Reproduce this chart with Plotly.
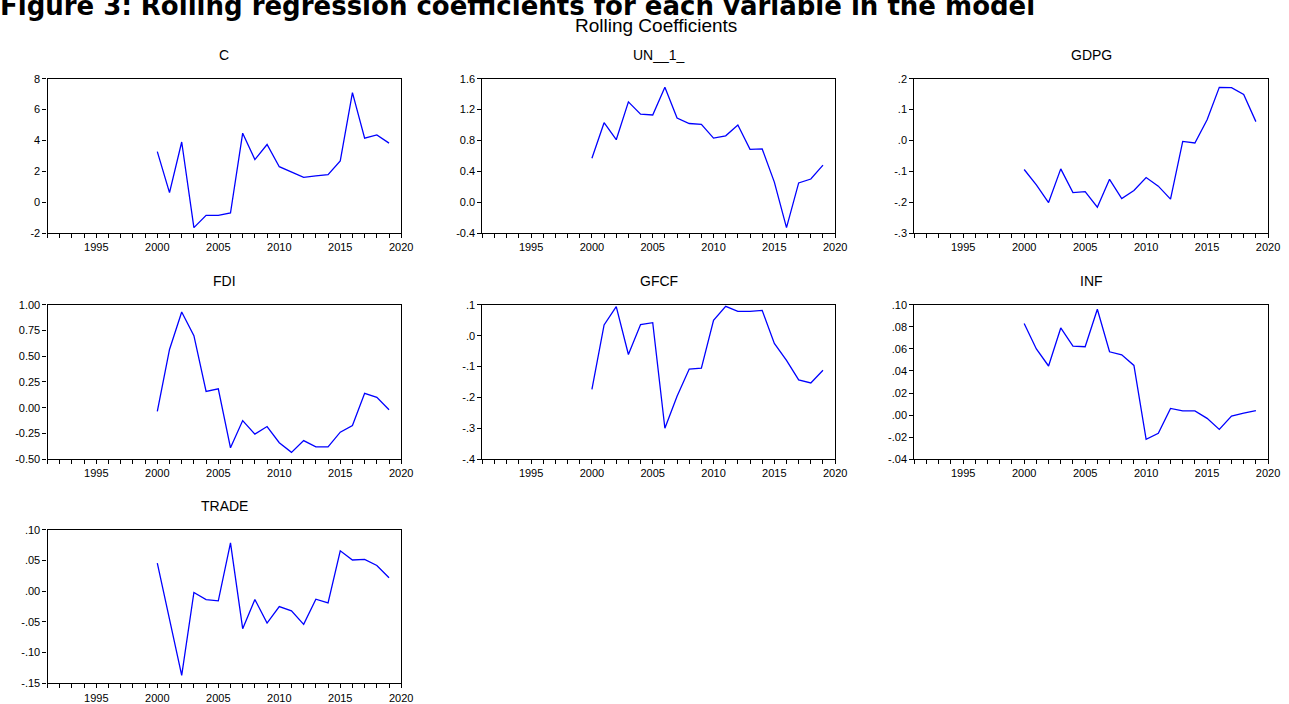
import plotly.graph_objects as go

years = list(range(2000, 2020))

c_vals = [3.28, 0.62, 3.9, -1.65, -0.85, -0.85, -0.7, 4.47, 2.76, 3.74,
          2.3, 1.93, 1.61, 1.7, 1.78, 2.68, 7.1, 4.15, 4.36, 3.83]
un_vals = [0.57, 1.03, 0.81, 1.30, 1.14, 1.13, 1.49, 1.09, 1.02, 1.01,
           0.83, 0.86, 1.0, 0.685, 0.69, 0.26, -0.33, 0.25, 0.30, 0.48]
gdpg_vals = [-0.094, -0.144, -0.201, -0.092, -0.169, -0.166, -0.216, -0.126, -0.188, -0.162,
             -0.12, -0.148, -0.19, -0.003, -0.008, 0.067, 0.172, 0.171, 0.149, 0.061]
fdi_vals = [-0.035, 0.566, 0.93, 0.70, 0.158, 0.183, -0.39, -0.125, -0.257, -0.183,
            -0.34, -0.434, -0.32, -0.38, -0.38, -0.238, -0.174, 0.14, 0.10, -0.02]
gfcf_vals = [-0.174, 0.035, 0.094, -0.061, 0.036, 0.042, -0.30, -0.196, -0.108, -0.105,
             0.05, 0.095, 0.079, 0.079, 0.082, -0.025, -0.08, -0.143, -0.153, -0.112]
inf_vals = [0.083, 0.060, 0.0445, 0.079, 0.0625, 0.062, 0.096, 0.0574, 0.0547, 0.045,
            -0.022, -0.0166, 0.006, 0.0038, 0.0038, -0.003, -0.013, -0.001, 0.0017, 0.004]
trade_vals = [0.046, -0.048, -0.137, -0.002, -0.0135, -0.0156, 0.079, -0.061, -0.0135, -0.052,
              -0.025, -0.032, -0.054, -0.013, -0.019, 0.066, 0.051, 0.052, 0.042, 0.022]

panel_names = ["C", "UN__1_", "GDPG", "FDI", "GFCF", "INF", "TRADE"]
panel_values = [c_vals, un_vals, gdpg_vals, fdi_vals, gfcf_vals, inf_vals, trade_vals]

ytick_vals = [
    [-2, 0, 2, 4, 6, 8],
    [-0.4, 0.0, 0.4, 0.8, 1.2, 1.6],
    [-0.3, -0.2, -0.1, 0.0, 0.1, 0.2],
    [-0.5, -0.25, 0.0, 0.25, 0.5, 0.75, 1.0],
    [-0.4, -0.3, -0.2, -0.1, 0.0, 0.1],
    [-0.04, -0.02, 0.0, 0.02, 0.04, 0.06, 0.08, 0.10],
    [-0.15, -0.10, -0.05, 0.0, 0.05, 0.10],
]
ytick_text = [
    ["-2", "0", "2", "4", "6", "8"],
    ["-0.4", "0.0", "0.4", "0.8", "1.2", "1.6"],
    ["-.3", "-.2", "-.1", ".0", ".1", ".2"],
    ["-0.50", "-0.25", "0.00", "0.25", "0.50", "0.75", "1.00"],
    ["-.4", "-.3", "-.2", "-.1", ".0", ".1"],
    ["-.04", "-.02", ".00", ".02", ".04", ".06", ".08", ".10"],
    ["-.15", "-.10", "-.05", ".00", ".05", ".10"],
]
xtick_vals = [1995, 2000, 2005, 2010, 2015, 2020]
xtick_text = ["1995", "2000", "2005", "2010", "2015", "2020"]

W, H = 1289, 704
col_px = [(48, 405), (487, 843), (923, 1280)]
row_px = [(74, 231), (304, 461), (533, 689)]

fig = go.Figure()
font_family = "Arial, Liberation Sans, sans-serif"

for i, (name, vals) in enumerate(zip(panel_names, panel_values)):
    r, c = divmod(i, 3)
    idx = i + 1
    xa = "x" if idx == 1 else f"x{idx}"
    ya = "y" if idx == 1 else f"y{idx}"
    fig.add_trace(go.Scatter(x=years, y=vals, mode="lines",
                             line=dict(color="#0000FF", width=1.3),
                             xaxis=xa, yaxis=ya, showlegend=False))
    x0, x1 = col_px[c]
    y0, y1 = row_px[r]
    ymin, ymax = ytick_vals[i][0], ytick_vals[i][-1]
    xkey = "xaxis" if idx == 1 else f"xaxis{idx}"
    ykey = "yaxis" if idx == 1 else f"yaxis{idx}"
    fig.update_layout(**{
        xkey: dict(domain=[x0 / W, x1 / W], anchor=ya, range=[1991, 2020],
                   tickvals=xtick_vals, ticktext=xtick_text,
                   ticks="outside", ticklen=4, tickwidth=1, tickcolor="black",
                   minor=dict(dtick=1, tick0=1991, ticks="outside", ticklen=4,
                              tickwidth=1, tickcolor="black", showgrid=False),
                   showline=True, linecolor="black", linewidth=1.3, mirror=True,
                   showgrid=False, zeroline=False,
                   tickfont=dict(family=font_family, size=11, color="black")),
        ykey: dict(domain=[1 - y1 / H, 1 - y0 / H], anchor=xa, range=[ymin, ymax],
                   tickvals=ytick_vals[i], ticktext=ytick_text[i],
                   ticks="outside", ticklen=4, tickwidth=1, tickcolor="black",
                   showline=True, linecolor="black", linewidth=1.3, mirror=True,
                   showgrid=False, zeroline=False,
                   tickfont=dict(family=font_family, size=11, color="black")),
    })
    fig.add_annotation(text=name, xref="paper", yref="paper",
                       x=(x0 + x1) / 2 / W, y=1 - (y0 - 24) / H,
                       xanchor="center", yanchor="middle", showarrow=False,
                       font=dict(family=font_family, size=14, color="black"))

fig.add_annotation(text="<b>Figure 3: Rolling regression coefficients for each variable in the model</b>",
                   xref="paper", yref="paper", x=-2 / W, y=1 - 0 / H,
                   xanchor="left", yanchor="middle", showarrow=False,
                   font=dict(family="DejaVu Sans", size=26, color="black"))
fig.add_annotation(text="Rolling Coefficients", xref="paper", yref="paper",
                   x=662 / W, y=1 - 20 / H, xanchor="center", yanchor="middle",
                   showarrow=False,
                   font=dict(family=font_family, size=19, color="black"))

fig.update_layout(width=W, height=H, margin=dict(l=0, r=0, t=0, b=0),
                  paper_bgcolor="white", plot_bgcolor="white")

fig.write_html("out.html", config={"displayModeBar": False},
               post_script="document.body.style.margin='0px';document.body.style.overflow='hidden';")
